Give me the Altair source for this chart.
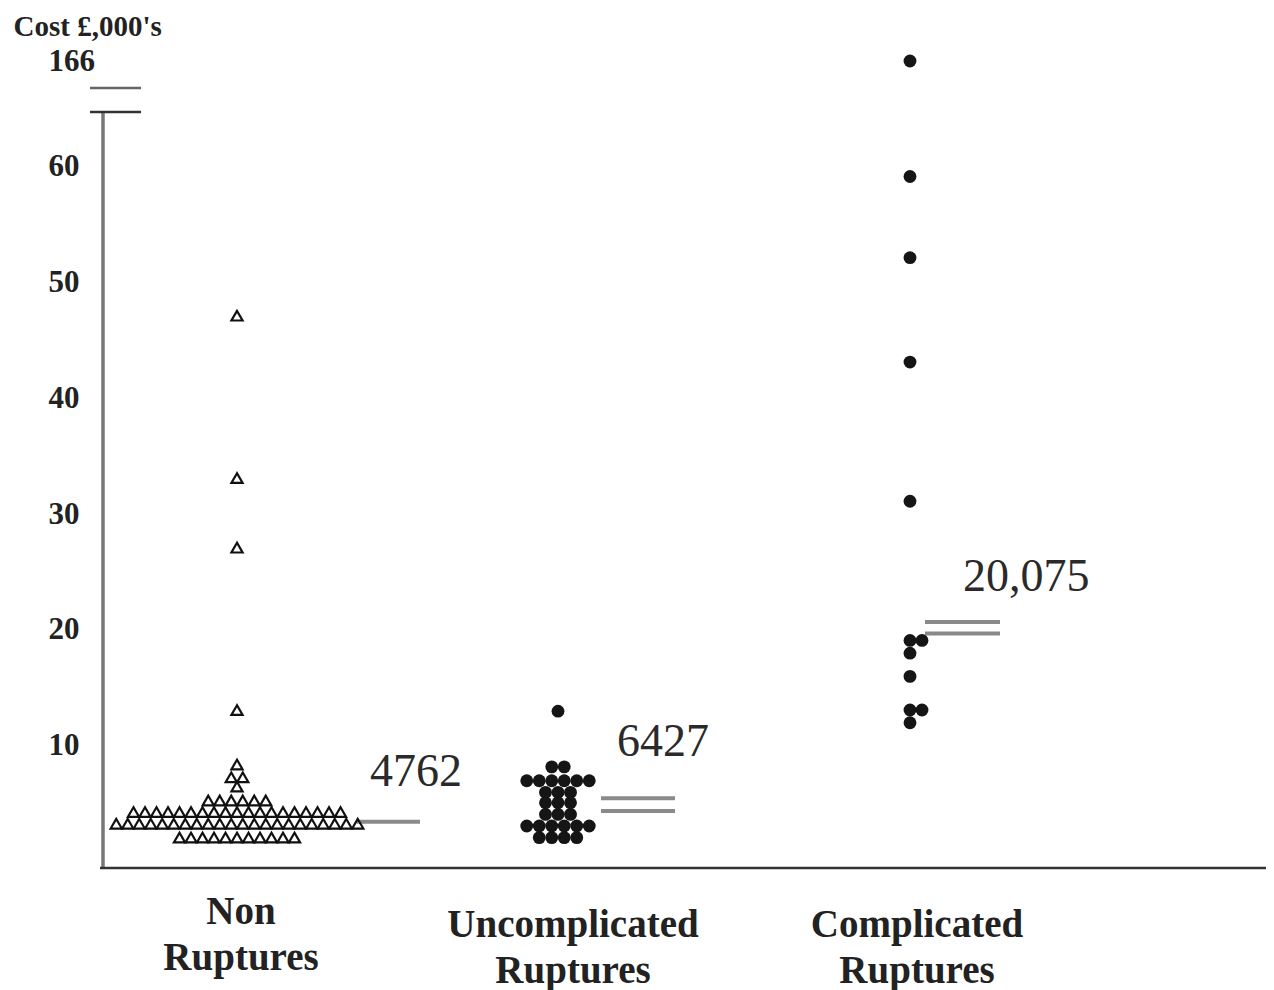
import altair as alt
import pandas as pd

# ---------------- data (cost in £,000's) ----------------
groups = ["Non Ruptures", "Uncomplicated Ruptures", "Complicated Ruptures"]
group_label_lines = [["Non", "Ruptures"], ["Uncomplicated", "Ruptures"], ["Complicated", "Ruptures"]]

# cost level and number of patients stacked at that level
nr_cost = [2.1, 3.3, 4.3, 5.3, 6.5, 7.3, 8.4, 13.1, 27.1, 33.1, 47.1]
nr_count = [11, 22, 19, 6, 1, 2, 1, 1, 1, 1, 1]
ur_cost = [2.1, 3.1, 4.1, 5.1, 6.0, 7.0, 8.2, 13.0]
ur_count = [4, 6, 3, 3, 3, 6, 2, 1]
cr_cost = [12.0, 13.1, 16.0, 18.0, 19.1, 31.1, 43.1, 52.1, 59.1, 166.0]
cr_count = [1, 2, 1, 1, 2, 1, 1, 1, 1, 1]

mean_text = ["4762", "6427", "20,075"]
mean_bars = [[3.47], [5.5, 4.4], [20.7, 19.7]]

y_ticks = [10, 20, 30, 40, 50, 60, 166]
y_title = "Cost £,000's"

# ---------------- layout (pixels) ----------------
W, H = 1163, 828
layout = {
    "Non Ruptures": dict(cx=134, step=11.5, anchor=0.5, bar=(254, 317), lab_x=267, lab_dy=-50, cat_x=138, cat_y=872),
    "Uncomplicated Ruptures": dict(cx=455, step=12.5, anchor=0.5, bar=(498, 572), lab_x=514, lab_dy=-56, cat_x=470, cat_y=885),
    "Complicated Ruptures": dict(cx=807, step=12.0, anchor=0.0, bar=(822, 897), lab_x=860, lab_dy=-45, cat_x=814, cat_y=885),
}

series = {
    "Non Ruptures": (nr_cost, nr_count),
    "Uncomplicated Ruptures": (ur_cost, ur_count),
    "Complicated Ruptures": (cr_cost, cr_count),
}

rows = []
for g in groups:
    costs, counts = series[g]
    L = layout[g]
    for c, n in zip(costs, counts):
        for k in range(n):
            off = (k - L["anchor"] * (n - 1)) * L["step"]
            rows.append({"group": g, "cost": c, "px": L["cx"] + off})
pts = pd.DataFrame(rows)

bar_rows = []
for g, levels in zip(groups, mean_bars):
    L = layout[g]
    for i, lv in enumerate(levels):
        bar_rows.append({"group": g, "level": lv, "x0": L["bar"][0], "x1": L["bar"][1], "idx": i})
bars = pd.DataFrame(bar_rows)

SERIF = "Liberation Serif"
yscale = alt.Scale(domain=[-0.52, 64.66, 150, 176.5], range=[H, 72, 53, 0], nice=False, zero=False)
xscale = alt.Scale(domain=[0, W], nice=False, zero=False)

yaxis = alt.Axis(
    values=y_ticks, domain=False, ticks=False, tickSize=0, grid=False,
    labelFont=SERIF, labelFontWeight="bold", labelFontSize=31, labelColor="#222",
    labelAlign="left", labelPadding=55,
    title=y_title, titleAngle=0, titleAlign="left", titleBaseline="middle",
    titleX=-90, titleY=-14, titleFont=SERIF, titleFontWeight="bold",
    titleFontSize=29, titleColor="#222",
)

base_pts = alt.Chart(pts)
triangles = base_pts.transform_filter(alt.datum.group == "Non Ruptures").mark_point(
    shape="triangle-up", filled=False, color="#111", strokeWidth=2.2, size=125, opacity=1
).encode(
    x=alt.X("px:Q", scale=xscale, axis=None),
    y=alt.Y("cost:Q", scale=yscale, axis=yaxis),
)
dots = base_pts.transform_filter(alt.datum.group != "Non Ruptures").mark_circle(
    color="#151515", size=165, opacity=1
).encode(
    x=alt.X("px:Q", scale=xscale, axis=None),
    y=alt.Y("cost:Q", scale=yscale, axis=yaxis),
)

mean_rules = alt.Chart(bars).mark_rule(color="#8a8a8a", strokeWidth=4).encode(
    x=alt.X("x0:Q", scale=xscale, axis=None),
    x2="x1:Q",
    y=alt.Y("level:Q", scale=yscale, axis=yaxis),
)

layers = [mean_rules, triangles, dots]

# mean value labels
for g, txt, levels in zip(groups, mean_text, mean_bars):
    L = layout[g]
    df = pd.DataFrame({"t": [txt], "x": [L["lab_x"]], "level": [max(levels)]})
    layers.append(
        alt.Chart(df).mark_text(
            align="left", baseline="middle", font=SERIF, fontSize=46, color="#2a2a2a", dy=L["lab_dy"]
        ).encode(
            x=alt.X("x:Q", scale=xscale, axis=None),
            y=alt.Y("level:Q", scale=yscale, axis=yaxis),
            text="t:N",
        )
    )

# category labels under the axis
for g, lines in zip(groups, group_label_lines):
    L = layout[g]
    df = pd.DataFrame({"t": ["\n".join(lines)], "x": [L["cat_x"]]})
    layers.append(
        alt.Chart(df).mark_text(
            align="center", baseline="middle", font=SERIF, fontWeight="bold", fontSize=39,
            lineBreak="\n", lineHeight=46, color="#222",
        ).encode(
            x=alt.X("x:Q", scale=xscale, axis=None),
            y=alt.value(L["cat_y"]),
            text="t:N",
        )
    )

# axis lines and break marks
axis_df = pd.DataFrame({"k": [0]})
y_axis_line = alt.Chart(axis_df).mark_rule(color="#777", strokeWidth=3.5).encode(
    x=alt.value(0), y=alt.value(72), y2=alt.value(H)
)
x_axis_line = alt.Chart(axis_df).mark_rule(color="#333", strokeWidth=2.5).encode(
    x=alt.value(-3), x2=alt.value(W), y=alt.value(H)
)
brk_top = alt.Chart(axis_df).mark_rule(color="#666", strokeWidth=2.5).encode(
    x=alt.value(-13), x2=alt.value(38), y=alt.value(48)
)
brk_bot = alt.Chart(axis_df).mark_rule(color="#333", strokeWidth=2.5).encode(
    x=alt.value(-13), x2=alt.value(38), y=alt.value(72)
)
layers += [y_axis_line, x_axis_line, brk_top, brk_bot]

chart = alt.layer(*layers).properties(
    width=W, height=H,
    background="white",
    autosize=alt.AutoSizeParams(type="none"),
    padding={"left": 95, "top": 32, "right": 0, "bottom": 130},
).configure_view(stroke=None)

chart.save("out.html", embed_options={"renderer": "svg", "actions": False})
